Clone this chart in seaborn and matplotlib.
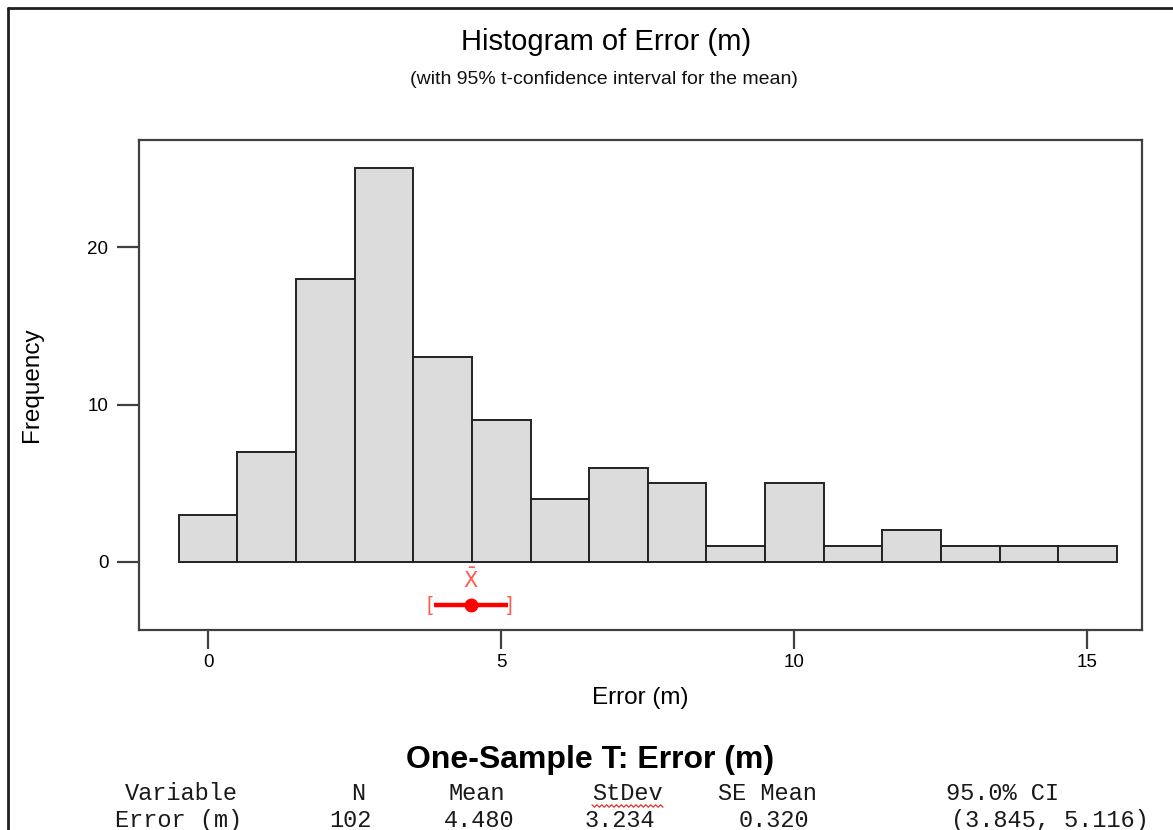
import numpy as np
import pandas as pd
import matplotlib
matplotlib.use("Agg")
import matplotlib.pyplot as plt
import seaborn as sns
from matplotlib.lines import Line2D

# ---- data ----
bin_centers = [0, 1, 2, 3, 4, 5, 6, 7, 8, 9, 10, 11, 12, 13, 14, 15]
counts = [3, 7, 18, 25, 13, 9, 4, 6, 5, 1, 5, 1, 2, 1, 1, 1]
mean_val = 4.480
ci_low, ci_high = 3.845, 5.116
x_ticks = [0, 5, 10, 15]
y_ticks = [0, 10, 20]
table_header = ["Variable", "N", "Mean", "StDev", "SE Mean", "95.0% CI"]
table_row = ["Error (m)", "102", "4.480", "3.234", "0.320", "(3.845, 5.116)"]

sns.set_style("ticks")
plt.rcParams['font.family'] = ['Liberation Sans', 'DejaVu Sans']
plt.rcParams['text.color'] = 'black'
plt.rcParams['axes.labelcolor'] = 'black'
plt.rcParams['xtick.color'] = '#404040'
plt.rcParams['ytick.color'] = '#404040'
plt.rcParams['xtick.labelcolor'] = 'black'
plt.rcParams['ytick.labelcolor'] = 'black'

W, H = 1173, 830
fig = plt.figure(figsize=(W / 100, H / 100), dpi=100)
ax = fig.add_axes([139 / W, 1 - 630 / H, (1142 - 139) / W, (630 - 140) / H])

df = pd.DataFrame({"center": bin_centers, "count": counts})
sns.histplot(data=df, x="center", weights="count", binwidth=1, binrange=(-0.5, 15.5),
             color="#dcdcdc", edgecolor="#222222", linewidth=1.4, alpha=1, ax=ax)

ax.set_xlim(-1.18, 15.93)
ax.set_ylim(-4.32, 26.8)
ax.set_xticks(x_ticks)
ax.set_yticks(y_ticks)
for s in ax.spines.values():
    s.set_color("#404040")
    s.set_linewidth(1.6)
ax.tick_params(axis="both", width=1.6, labelsize=13.5)
ax.tick_params(axis="x", length=13.5, pad=3.5)
ax.tick_params(axis="y", length=15.5, pad=6.5)
ax.set_xlabel("Error (m)", fontsize=17.5, labelpad=12)
ax.set_ylabel("Frequency", fontsize=17.5, labelpad=32)

# CI marker
red = "#ff0000"
light_red = "#ff5a4a"
yci = -2.75
ax.plot([ci_low, ci_high], [yci, yci], color=red, lw=3.2, solid_capstyle="butt")
ax.plot([mean_val], [yci], "o", color=red, ms=9)
ax.text(ci_low - 0.02, yci, "[", color=light_red, ha="right", va="center", fontsize=15)
ax.text(ci_high - 0.02, yci, "]", color=light_red, ha="left", va="center", fontsize=15)
ax.text(mean_val, -1.15, r"$\bar{\mathrm{X}}$", color=light_red, ha="center", va="center",
        fontsize=15)

# titles
fig.text(606 / W, 1 - 42 / H, "Histogram of Error (m)", ha="center", va="center",
         fontsize=21, color="black")
fig.text(604 / W, 1 - 80 / H, "(with 95% t-confidence interval for the mean)",
         ha="center", va="center", fontsize=14, color="#111111")

# outer frame
fig.add_artist(Line2D([8 / W, 8 / W], [0, 1 - 8 / H], color="#202020", lw=2,
                      transform=fig.transFigure))
fig.add_artist(Line2D([8 / W, 1], [1 - 8 / H, 1 - 8 / H], color="#202020", lw=2,
                      transform=fig.transFigure))

# one-sample T text
fig.text(590 / W, 1 - 760 / H, "One-Sample T: Error (m)", ha="center", va="center",
         fontsize=23, fontweight="bold", color="black")
head_x = [181, 358, 477, 627, 767, 1002]
row_x = [179, 350, 479, 620, 774, 1050]
for t, x in zip(table_header, head_x):
    fig.text(x / W, 1 - 793 / H, t, ha="center", va="center", fontsize=17,
             family="Liberation Mono", color="#1a1a1a")
for t, x in zip(table_row, row_x):
    fig.text(x / W, 1 - 820 / H, t, ha="center", va="center", fontsize=17,
             family="Liberation Mono", color="#1a1a1a")

# spell-check squiggle under "StDev"
sq_x = np.linspace(592, 663, 30)
sq_y = 806 + np.where(np.arange(30) % 2 == 0, -1.2, 1.2)
fig.add_artist(Line2D(sq_x / W, 1 - sq_y / H, color="#e03030", lw=0.9,
                      transform=fig.transFigure))

fig.savefig("out.png", dpi=100)
